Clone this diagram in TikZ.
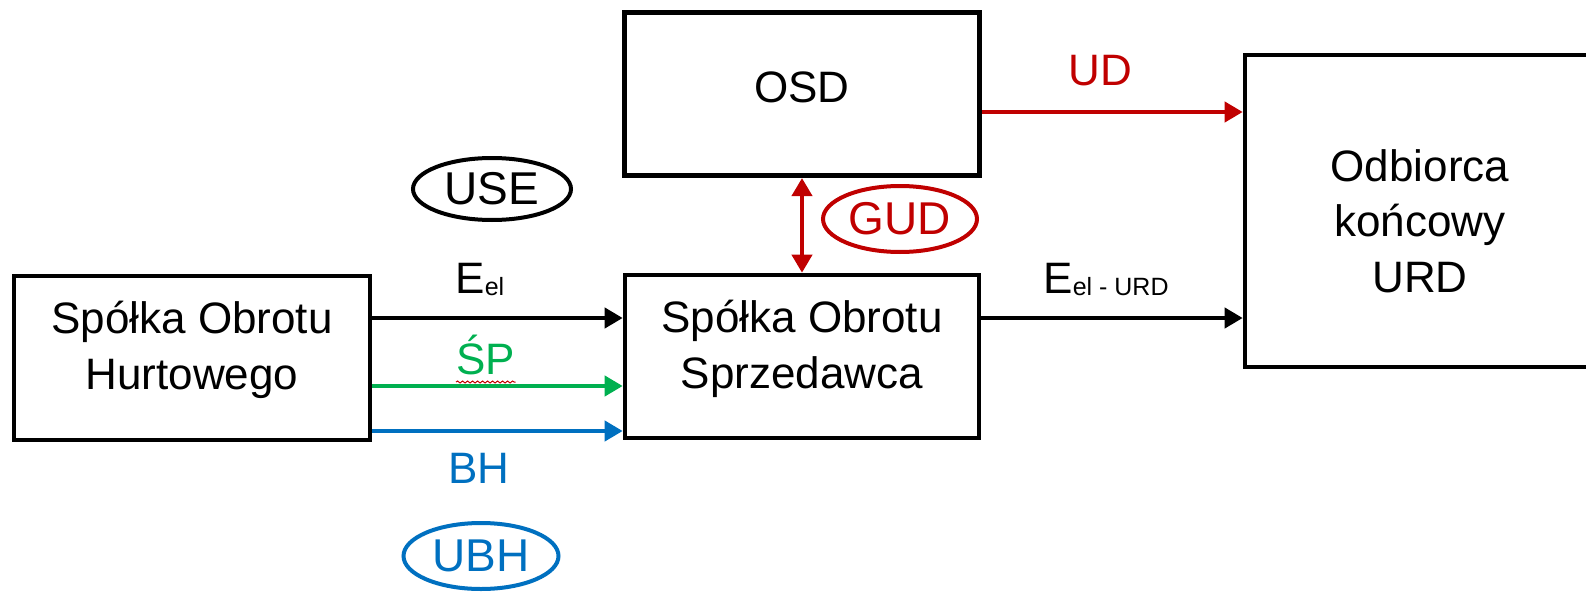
\documentclass[tikz,border=0pt]{standalone}
\usepackage{fontspec}
\setmainfont{Liberation Sans}
\usetikzlibrary{arrows.meta,shapes.geometric,decorations.pathmorphing}
\definecolor{myred}{HTML}{C00000}
\definecolor{mygreen}{HTML}{00B050}
\definecolor{myblue}{HTML}{0070C0}
\newcommand{\subtxt}[1]{\raisebox{-1pt}{\fontsize{12.5}{12.5}\selectfont #1}}
\begin{document}
\begin{tikzpicture}[x=0.5pt,y=-0.5pt,
  font=\fontsize{22}{27.75}\selectfont,
  box/.style={draw=black,line width=2.3pt,fill=white,inner sep=0pt},
  txt/.style={align=center,inner sep=0pt},
  lbl/.style={inner sep=0pt,anchor=base west},
  oval/.style={ellipse,draw,line width=2pt,inner sep=0pt,font=\fontsize{23}{23}\selectfont},
  conn/.style={line width=2pt,-{Triangle[length=9pt,width=10pt]}},
  conn2/.style={line width=2pt,{Triangle[length=9pt,width=10pt]}-{Triangle[length=9pt,width=10pt]}}]
\useasboundingbox (0,0) rectangle (1586,594);
% boxes
\node[box,minimum width=178pt,minimum height=82pt] (hurt) at (192,358) {};
\node[box,minimum width=177pt,minimum height=81.5pt] (sprz) at (802,356.5) {};
\node[box,minimum width=177.5pt,minimum height=81.75pt] (osd) at (802,94) {};
\node[box,minimum width=175.5pt,minimum height=156pt] (odb) at (1420.5,211) {};
% box texts
\node[txt] (hurtT) at (192,350) {Spółka Obrotu\\Hurtowego};
\node[txt] (sprzT) at (802,349) {Spółka Obrotu\\Sprzedawca};
\node[txt] (osdT) at (802,87) {OSD};
\node[txt] (odbT) at (1420,221) {Odbiorca\\końcowy\\URD};
% ellipses
\node[oval,minimum width=79pt,minimum height=31pt] (use) at (492,189) {USE};
\node[oval,draw=myred,text=myred,minimum width=77pt,minimum height=33pt] (gud) at (900,219) {GUD};
\node[oval,draw=myblue,text=myblue,minimum width=77.5pt,minimum height=33pt] (ubh) at (481,556) {UBH};
% connectors
\draw[conn] (hurt.east |- 0,318) -- (sprz.west |- 0,318);
\draw[conn,mygreen] (hurt.east |- 0,386) -- (sprz.west |- 0,386);
\draw[conn,myblue] (hurt.east |- 0,431) -- (sprz.west |- 0,431);
\draw[conn,myred] (osd.east |- 0,112) -- (odb.west |- 0,112);
\draw[conn] (sprz.east |- 0,318) -- (odb.west |- 0,318);
\draw[conn2,myred] (osd.south) -- (sprz.north);
% labels
\node[lbl] (eel) at (455,293) {E\subtxt{el}};
\node[lbl,text=mygreen] (sp) at (456,374) {ŚP};
\node[lbl,text=myblue] (bh) at (448,483) {BH};
\node[lbl,text=myred] (ud) at (1068,85) {UD};
\node[lbl] (eelurd) at (1043,293) {E\subtxt{el - URD}};
\draw[myred,line width=0.5pt,decorate,decoration={snake,amplitude=0.5pt,segment length=2.5pt}]
  ([yshift=-4pt]sp.base west) -- ([yshift=-4pt]sp.base east);
\end{tikzpicture}
\end{document}
